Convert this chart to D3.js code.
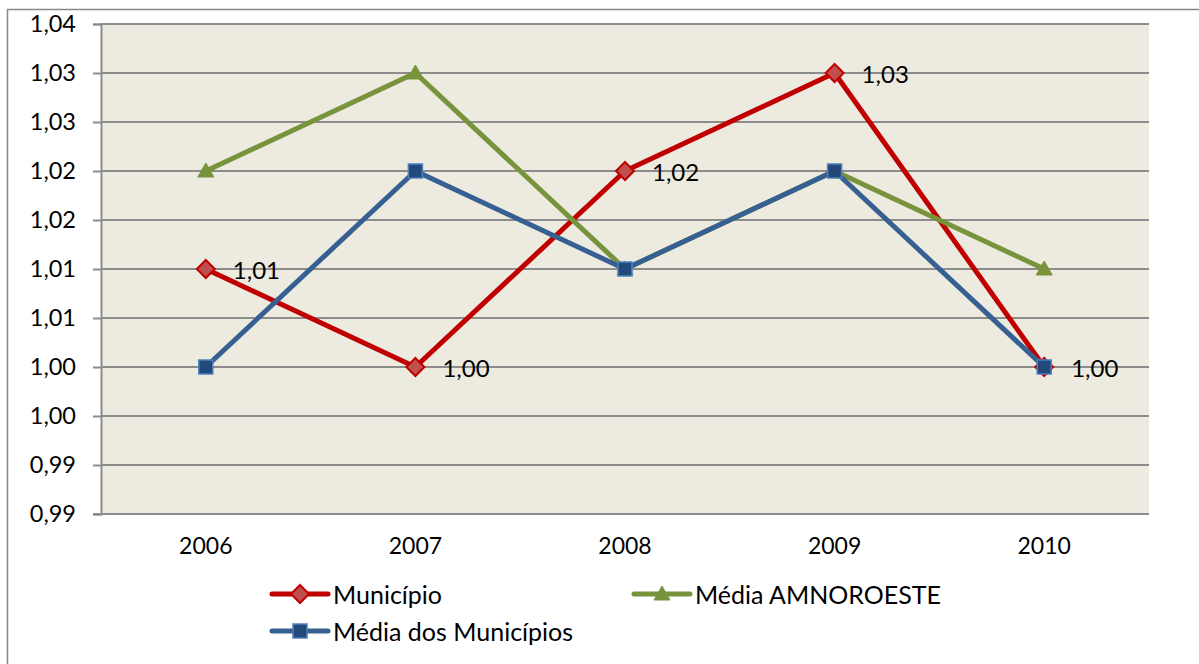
<!DOCTYPE html>
<html>
<head>
<meta charset="utf-8">
<script src="https://cdn.jsdelivr.net/npm/d3@7"></script>
<style>
  html, body { margin: 0; padding: 0; background: #fff; }
  svg { display: block; }
  text { font-family: Lato, "Open Sans", sans-serif; fill: #000; }
</style>
</head>
<body>
<script>
const years = ["2006", "2007", "2008", "2009", "2010"];
const municipio = [1.01, 1.00, 1.02, 1.03, 1.00];
const municipioLabels = ["1,01", "1,00", "1,02", "1,03", "1,00"];
const mediaAmnoroeste = [1.02, 1.03, 1.01, 1.02, 1.01];
const mediaMunicipios = [1.00, 1.02, 1.01, 1.02, 1.00];
const yTickValues = [0.985, 0.99, 0.995, 1.00, 1.005, 1.01, 1.015, 1.02, 1.025, 1.03, 1.035];
const yTickLabels = ["0,99", "0,99", "1,00", "1,00", "1,01", "1,01", "1,02", "1,02", "1,03", "1,03", "1,04"];
const seriesNames = ["Município", "Média AMNOROESTE", "Média dos Municípios"];

const W = 1199, H = 664;
const svg = d3.select("body").append("svg").attr("width", W).attr("height", H);

// outer frame
svg.append("rect").attr("x", 7.5).attr("y", 9.5).attr("width", 1300).attr("height", 800)
  .attr("fill", "#fff").attr("stroke", "#878787").attr("stroke-width", 1.5);

const plot = { left: 101, right: 1149, top: 24, bottom: 514 };
const x = d3.scaleBand().domain(years).range([plot.left, plot.right]);
const cx = d => x(d) + x.bandwidth() / 2;
const y = d3.scaleLinear().domain([0.985, 1.035]).range([plot.bottom, plot.top]);

svg.append("rect").attr("x", plot.left).attr("y", plot.top)
  .attr("width", plot.right - plot.left).attr("height", plot.bottom - plot.top)
  .attr("fill", "#EDEADF");

// gridlines
svg.append("g").selectAll("line").data(yTickValues.slice(1)).join("line")
  .attr("x1", plot.left).attr("x2", plot.right)
  .attr("y1", d => y(d)).attr("y2", d => y(d))
  .attr("stroke", "#8c8c8c").attr("stroke-width", 2);

// y axis
const yAxis = d3.axisLeft(y).tickValues(yTickValues).tickSize(8).tickPadding(17)
  .tickFormat((d, i) => yTickLabels[i]);
const gy = svg.append("g").attr("transform", `translate(${plot.left},0)`).call(yAxis);
gy.select(".domain").attr("stroke", "#8c8c8c").attr("stroke-width", 2);
gy.selectAll(".tick line").attr("stroke", "#8c8c8c").attr("stroke-width", 2);
gy.selectAll(".tick text").style("font-family", "Lato, sans-serif").style("font-size", "23.5px").attr("fill", "#000");

// x axis
const xAxis = d3.axisBottom(x).tickSize(0).tickPadding(24);
const gx = svg.append("g").attr("transform", `translate(0,${plot.bottom})`).call(xAxis);
gx.select(".domain").attr("stroke", "#8c8c8c").attr("stroke-width", 2)
  .attr("d", `M${plot.left - 8},0H${plot.right}`);
gx.selectAll(".tick text").style("font-family", "Lato, sans-serif").style("font-size", "23px").attr("fill", "#000");

const line = d3.line().x((d, i) => cx(years[i])).y(d => y(d));

const series = [
  { name: seriesNames[0], values: municipio, color: "#C00000", fill: "#C0504D", stroke: "#C00000", marker: "diamond" },
  { name: seriesNames[1], values: mediaAmnoroeste, color: "#77933C", fill: "#77933C", stroke: "#77933C", marker: "triangle" },
  { name: seriesNames[2], values: mediaMunicipios, color: "#376092", fill: "#23497A", stroke: "#4F81BD", marker: "square" }
];

function marker(g, type, fill, stroke) {
  if (type === "diamond") {
    g.append("path").attr("d", "M0,-9L9,0L0,9L-9,0Z").attr("fill", fill).attr("stroke", stroke).attr("stroke-width", 2);
  } else if (type === "triangle") {
    g.append("path").attr("d", "M0,-8L8,6L-8,6Z").attr("fill", fill).attr("stroke", stroke).attr("stroke-width", 1);
  } else {
    g.append("rect").attr("x", -7).attr("y", -7).attr("width", 14).attr("height", 14)
      .attr("fill", fill).attr("stroke", stroke).attr("stroke-width", 1.5);
  }
}

series.forEach(s => {
  svg.append("path").datum(s.values).attr("d", line)
    .attr("fill", "none").attr("stroke", s.color).attr("stroke-width", 5)
    .attr("stroke-linejoin", "round");
  s.values.forEach((v, i) => {
    const g = svg.append("g").attr("transform", `translate(${cx(years[i])},${y(v)})`);
    marker(g, s.marker, s.fill, s.stroke);
  });
});

// data labels for Município
svg.append("g").selectAll("text").data(municipio).join("text")
  .attr("x", (d, i) => cx(years[i]) + 27).attr("y", d => y(d))
  .attr("dominant-baseline", "central")
  .style("font-size", "24px")
  .text((d, i) => municipioLabels[i]);

// legend
const legendItems = [
  { s: series[0], x: 272, y: 594 },
  { s: series[1], x: 634, y: 594 },
  { s: series[2], x: 272, y: 631 }
];
legendItems.forEach(it => {
  const g = svg.append("g").attr("transform", `translate(${it.x},${it.y})`);
  g.append("line").attr("x1", 0).attr("x2", 56).attr("y1", 0).attr("y2", 0)
    .attr("stroke", it.s.color).attr("stroke-width", 5).attr("stroke-linecap", "round");
  const m = g.append("g").attr("transform", "translate(28,0)");
  marker(m, it.s.marker, it.s.fill, it.s.stroke);
  g.append("text").attr("x", 61).attr("y", 0).attr("dominant-baseline", "central")
    .style("font-size", "25px").text(it.s.name);
});
</script>
</body>
</html>
